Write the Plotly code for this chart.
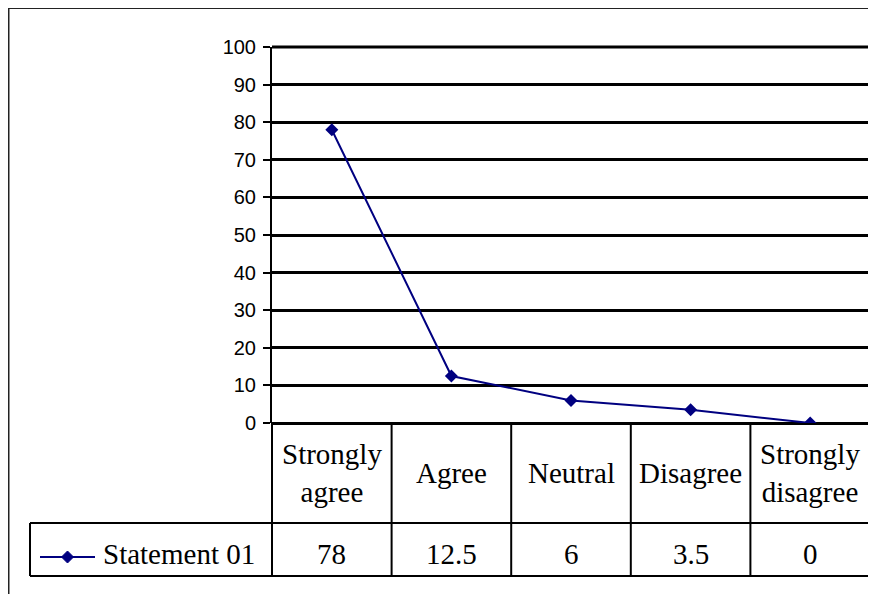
import plotly.graph_objects as go

categories = ["Strongly<br>agree", "Agree", "Neutral", "Disagree", "Strongly<br>disagree"]
values = [78, 12.5, 6, 3.5, 0]
series_name = "Statement 01"
y_ticks = [0, 10, 20, 30, 40, 50, 60, 70, 80, 90, 100]

# the page body has an 8px margin; work in reference-pixel coordinates and offset
OFF = 8
W, H = 876 - OFF, 594 - OFF
L, T = 272 - OFF, 47 - OFF
RIGHT, BOTTOM = 870 - OFF, 423 - OFF
R, B = W - RIGHT, H - BOTTOM
PW, PH = RIGHT - L, BOTTOM - T

def px(x):
    return (x - OFF - L) / PW

def py(y):
    return (BOTTOM - (y - OFF)) / PH

NAVY = "#000080"
SERIF = "Liberation Serif, Times New Roman, serif"
SANS = "Liberation Sans, Arial, sans-serif"

n = len(categories)
xs = list(range(n))
fig = go.Figure()
fig.add_trace(go.Scatter(
    x=xs, y=values, mode="lines+markers", name=series_name,
    line=dict(color=NAVY, width=2),
    marker=dict(symbol="diamond", size=10, color=NAVY),
    showlegend=False,
))

shapes = []
def line(x0, y0, x1, y1, w=2, c="black"):
    shapes.append(dict(type="line", xref="paper", yref="paper",
                       x0=px(x0), y0=py(y0), x1=px(x1), y1=py(y1),
                       line=dict(color=c, width=w), layer="above"))

# outer frame
line(8, 7.5, 876, 7.5, 3, "#222")
line(8, 7, 8, 594, 3, "#222")

# top gridline (range maximum)
shapes.append(dict(type="line", xref="paper", yref="paper", x0=0, x1=1, y0=1, y1=1,
                   line=dict(color="black", width=3), layer="below"))

# table
header_top = 423
header_bottom = 523
row_bottom = 576
legend_left = 30
for i in range(n + 1):
    xp = 272 + (870 - 272) * i / n
    line(xp, header_top, xp, row_bottom, 2)
line(legend_left, header_bottom, 870, header_bottom, 2)
line(legend_left, row_bottom, 870, row_bottom, 2)
line(legend_left, header_bottom, legend_left, row_bottom, 2)
# right edge of plot area
line(870, 47, 870, header_top, 1.5)

# legend key drawn inside its table cell
key_y = 557
line(40, key_y, 95, key_y, 2, NAVY)
d = 6
shapes.append(dict(type="path", xref="paper", yref="paper",
                   path=f"M {px(67.5 - d)} {py(key_y)} L {px(67.5)} {py(key_y - d)} "
                        f"L {px(67.5 + d)} {py(key_y)} L {px(67.5)} {py(key_y + d)} Z",
                   fillcolor=NAVY, line=dict(color=NAVY, width=1), layer="above"))

FS = 29
ROW_Y = 554
annotations = [dict(x=px(101), y=py(ROW_Y), xref="paper", yref="paper", text=series_name,
                    showarrow=False, xanchor="left", yanchor="middle",
                    font=dict(family=SERIF, size=FS, color="black"))]
for i, (c, v) in enumerate(zip(categories, values)):
    annotations.append(dict(x=i, y=py((header_top + header_bottom) / 2), xref="x", yref="paper",
                            text=c, showarrow=False, yanchor="middle",
                            font=dict(family=SERIF, size=FS, color="black")))
    annotations.append(dict(x=i, y=py(ROW_Y), xref="x", yref="paper",
                            text=f"{v:g}", showarrow=False, yanchor="middle",
                            font=dict(family=SERIF, size=FS, color="black")))

fig.update_layout(
    width=W, height=H, autosize=False,
    margin=dict(l=L, r=R, t=T, b=B),
    paper_bgcolor="white", plot_bgcolor="white",
    shapes=shapes, annotations=annotations,
    showlegend=False,
    xaxis=dict(range=[-0.5, n - 0.5], showticklabels=False, showgrid=False,
               zeroline=False, showline=False, ticks="", fixedrange=True),
    yaxis=dict(range=[0, 100], tickvals=y_ticks, ticks="outside", ticklen=7,
               tickwidth=2, tickcolor="black",
               tickfont=dict(family=SANS, size=20, color="black"),
               showgrid=True, gridcolor="black", gridwidth=3,
               zeroline=True, zerolinecolor="black", zerolinewidth=3,
               showline=True, linecolor="black", linewidth=2,
               ticklabelstandoff=3),
)

fig.write_html("out.html")
